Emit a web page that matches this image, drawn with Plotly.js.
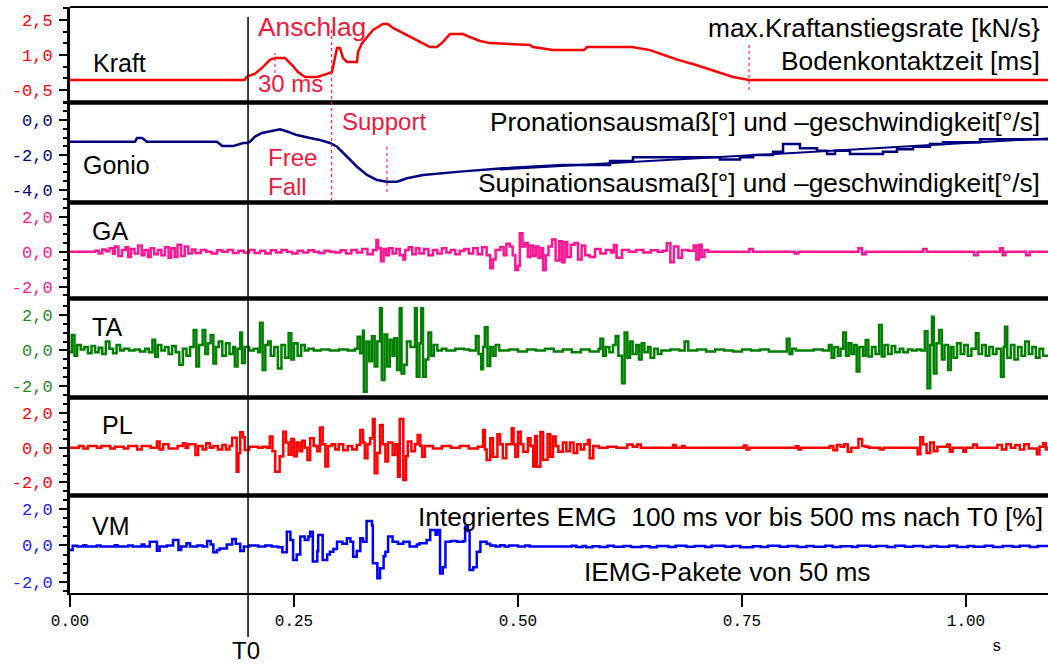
<!DOCTYPE html>
<html><head><meta charset="utf-8">
<script src="https://cdn.plot.ly/plotly-3.0.1.min.js"></script>
<style>html,body{margin:0;padding:0;background:#fff;}#chart{width:1048px;height:665px;}</style>
</head><body><div id="chart"></div>
<script>
// ---------- DATA (time in s, value) ----------
const kraftSamples = [[0,-0.07],[0.195,-0.07],[0.197,0.06],[0.2065,0.2],[0.2154,0.49],[0.2232,0.79],[0.2288,0.87],[0.24,0.87],[0.2478,0.57],[0.2545,0.27],[0.2623,0.06],[0.2757,0.06],[0.2868,0.19],[0.2924,0.27],[0.298,1.3],[0.3013,1.3],[0.3047,0.87],[0.3092,0.7],[0.3203,0.7],[0.3214,1.13],[0.3259,1.51],[0.3315,1.77],[0.3382,2.07],[0.3493,2.33],[0.3549,2.33],[0.3605,2.16],[0.3717,1.94],[0.3828,1.73],[0.3929,1.51],[0.4018,1.34],[0.4096,1.34],[0.4163,1.56],[0.4241,1.9],[0.4386,1.9],[0.4464,1.77],[0.4576,1.6],[0.4688,1.51],[0.5134,1.43],[0.5167,1.34],[0.5391,1.21],[0.5737,1.21],[0.577,1.34],[0.6272,1.34],[0.6473,1.21],[0.6629,1.0],[0.6786,0.79],[0.6987,0.57],[0.7243,0.27],[0.74,0.06],[0.7578,-0.07],[1.0915,-0.07]];

const gonioSamples = [[0,-1.24],[0.0725,-1.24],[0.0748,-1.03],[0.0804,-1.03],[0.0859,-1.24],[0.164,-1.24],[0.17,-1.49],[0.182,-1.49],[0.1931,-1.31],[0.1975,-1.31],[0.2009,-1.24],[0.2065,-0.95],[0.2143,-0.74],[0.2232,-0.63],[0.2344,-0.53],[0.2433,-0.67],[0.2533,-0.86],[0.2679,-1.03],[0.279,-1.14],[0.2902,-1.31],[0.298,-1.53],[0.3092,-2.1],[0.3203,-2.67],[0.3315,-3.14],[0.3426,-3.43],[0.3538,-3.53],[0.365,-3.53],[0.3761,-3.33],[0.394,-3.14],[0.4353,-2.95],[0.4833,-2.76],[0.5502,-2.57],[0.6027,-2.57],[0.6027,-2.34],[0.6283,-2.34],[0.6283,-2.13],[0.7254,-2.13],[0.7254,-2.25],[0.7478,-2.25],[0.7478,-2.13],[0.7623,-2.13],[0.7623,-2.0],[0.7846,-2.0],[0.7846,-1.81],[0.7958,-1.81],[0.7958,-1.37],[0.8147,-1.37],[0.8147,-1.62],[0.8337,-1.62],[0.8337,-1.75],[0.8449,-1.75],[0.8449,-1.94],[0.8538,-1.94],[0.8538,-1.75],[0.8705,-1.75],[0.8705,-1.94],[0.9074,-1.94],[0.9074,-1.81],[0.923,-1.81],[0.923,-1.67],[0.9408,-1.67],[0.9408,-1.53],[0.9598,-1.53],[0.9598,-1.37],[0.9743,-1.37],[0.9743,-1.27],[1.0156,-1.27],[1.0156,-1.1],[1.0915,-1.1]];

const gonioTrend = [[0.48,-2.83],[1.0915,-1.05]];

const gaSamples = [[0,0],[0.028,0.05],[0.032,-0.1],[0.036,0.12],[0.040,0.02],[0.044,0.2],[0.048,-0.12],[0.050,0.3],[0.054,-0.25],[0.058,0.1],[0.062,0.25],[0.065,-0.3],[0.068,0.15],[0.072,-0.1],[0.076,0.35],[0.080,-0.2],[0.083,0.1],[0.087,-0.3],[0.090,0.2],[0.094,-0.15],[0.098,0.1],[0.102,-0.2],[0.106,0.25],[0.110,-0.35],[0.113,0.2],[0.117,-0.3],[0.120,0.4],[0.124,-0.25],[0.128,0.3],[0.132,-0.1],[0.136,0.12],[0.140,-0.08],[0.146,0.1],[0.152,0],[0.158,-0.1],[0.164,0.08],[0.170,0],[0.176,0.1],[0.182,-0.08],[0.188,0.05],[0.194,-0.05],[0.200,0.1],[0.206,-0.08],[0.212,0.05],[0.218,-0.1],[0.224,0.08],[0.230,-0.05],[0.236,0.1],[0.242,0],[0.248,-0.1],[0.254,0.06],[0.260,-0.05],[0.266,0.08],[0.272,0],[0.278,-0.08],[0.284,0.05],[0.290,0],[0.296,-0.05],[0.302,0.08],[0.308,-0.1],[0.314,0.1],[0.320,-0.05],[0.326,0.15],[0.332,-0.15],[0.338,0.1],[0.342,0.67],[0.344,0.2],[0.347,-0.55],[0.350,0.15],[0.353,-0.2],[0.356,0.2],[0.360,-0.1],[0.364,0.15],[0.368,-0.2],[0.372,-0.45],[0.374,0.1],[0.378,0.25],[0.382,-0.15],[0.386,0.2],[0.390,-0.1],[0.395,0.15],[0.400,-0.2],[0.405,0.1],[0.410,-0.1],[0.415,0.2],[0.420,-0.05],[0.425,0.1],[0.430,-0.15],[0.435,0.05],[0.440,0.15],[0.445,-0.1],[0.450,0.2],[0.455,-0.15],[0.460,0.25],[0.465,-0.2],[0.469,-0.95],[0.472,-0.45],[0.475,0.1],[0.480,0.25],[0.484,-0.2],[0.487,0.45],[0.491,0.3],[0.494,-0.2],[0.497,-1.05],[0.500,-0.8],[0.502,1.05],[0.505,0.3],[0.508,0.5],[0.511,-0.3],[0.514,0.35],[0.517,-0.25],[0.520,0.3],[0.523,-0.35],[0.526,0.2],[0.528,-1.05],[0.531,-0.2],[0.534,0.3],[0.538,0.7],[0.542,-0.5],[0.546,0.6],[0.549,-0.6],[0.552,0.55],[0.555,-0.3],[0.559,0.4],[0.563,0.5],[0.567,-0.45],[0.571,0.35],[0.575,-0.2],[0.580,-0.3],[0.586,0.15],[0.592,-0.1],[0.598,0.1],[0.604,-0.05],[0.607,0.38],[0.610,-0.35],[0.616,0.1],[0.624,0],[0.632,0.1],[0.640,-0.05],[0.648,0.08],[0.656,0],[0.662,0.05],[0.666,0.48],[0.670,-0.6],[0.674,0.3],[0.679,-0.35],[0.683,0.1],[0.690,0.05],[0.696,0.35],[0.699,-0.45],[0.702,0.4],[0.705,-0.3],[0.708,0.1],[0.712,0],[0.758,0.15],[0.762,0],[0.809,-0.1],[0.813,0],[0.880,0.2],[0.884,-0.15],[0.888,0],[0.952,0.15],[0.956,0],[1.009,-0.2],[1.013,0],[1.038,0.2],[1.041,-0.2],[1.044,0],[1.067,-0.2],[1.071,0],[1.0915,0]];

const taSamples = [[0,-0.1],[0.002,0.87],[0.005,-0.3],[0.008,0.3],[0.012,0.05],[0.016,0.2],[0.020,-0.15],[0.024,0.25],[0.028,-0.1],[0.032,0.15],[0.036,-0.2],[0.040,0.5],[0.044,0.1],[0.048,-0.15],[0.052,0.3],[0.056,0],[0.060,0.1],[0.066,0],[0.072,0.05],[0.078,-0.05],[0.084,0.1],[0.088,-0.1],[0.092,0.6],[0.095,-0.35],[0.098,0.3],[0.102,0],[0.106,0.2],[0.110,-0.2],[0.114,0.25],[0.118,-0.1],[0.122,-0.8],[0.126,0.1],[0.130,-0.3],[0.134,0.2],[0.138,1.15],[0.141,-0.9],[0.144,0.3],[0.148,1.15],[0.151,-0.2],[0.154,0.4],[0.157,0.87],[0.160,-0.72],[0.163,0.2],[0.166,0.5],[0.170,-0.3],[0.174,0.4],[0.178,-0.2],[0.182,0.2],[0.184,-0.9],[0.187,0.1],[0.190,1.0],[0.192,-0.7],[0.195,0.2],[0.200,0],[0.205,0.1],[0.210,-0.1],[0.212,1.55],[0.215,-1.09],[0.218,0.3],[0.221,0.5],[0.224,-0.3],[0.228,0.2],[0.232,-1.0],[0.236,0.3],[0.240,-0.4],[0.244,0.96],[0.247,-0.5],[0.250,0.4],[0.254,-0.3],[0.258,0.3],[0.262,0],[0.266,0.1],[0.272,0],[0.280,0.05],[0.290,0],[0.300,0.05],[0.310,0],[0.318,0.1],[0.321,0.77],[0.324,-0.16],[0.327,1.1],[0.328,-2.3],[0.331,0.5],[0.334,-0.6],[0.337,0.8],[0.340,-0.9],[0.343,0.5],[0.346,2.36],[0.348,-1.65],[0.351,0.9],[0.354,-0.9],[0.357,0.6],[0.360,-0.3],[0.362,0.68],[0.365,-1.09],[0.368,2.36],[0.370,-1.28],[0.373,-0.8],[0.376,0.5],[0.380,0.2],[0.385,2.36],[0.387,-1.46],[0.390,0.4],[0.392,2.36],[0.394,-1.46],[0.397,-0.5],[0.400,1.0],[0.403,-0.3],[0.406,0.3],[0.410,0],[0.415,0.1],[0.420,0],[0.430,0.1],[0.440,0.05],[0.446,0],[0.453,0.81],[0.456,-0.2],[0.459,-1.05],[0.461,0.2],[0.463,1.3],[0.466,-0.87],[0.469,0.2],[0.472,-0.3],[0.475,0.3],[0.479,0],[0.49,0.05],[0.50,-0.05],[0.51,0.05],[0.52,0],[0.53,0.1],[0.54,-0.05],[0.55,0.05],[0.56,-0.1],[0.57,0.05],[0.58,-0.05],[0.59,0.1],[0.592,0.65],[0.595,-0.3],[0.598,0.2],[0.602,-0.1],[0.606,0.3],[0.609,0.81],[0.612,-0.3],[0.616,-1.83],[0.619,1.0],[0.622,-0.4],[0.625,0.5],[0.628,-0.2],[0.632,0.3],[0.635,-0.5],[0.638,0.4],[0.641,-0.1],[0.645,0.2],[0.648,-0.4],[0.652,0.1],[0.656,-0.2],[0.66,0],[0.67,0.05],[0.68,0],[0.686,0.5],[0.69,0],[0.70,0.05],[0.71,-0.05],[0.72,0.05],[0.73,0],[0.74,-0.05],[0.75,0.05],[0.76,0],[0.77,0.05],[0.78,-0.05],[0.80,0.65],[0.803,-0.2],[0.806,0.1],[0.81,0],[0.82,0],[0.83,0.05],[0.84,0],[0.847,0.3],[0.85,-0.4],[0.853,0.2],[0.857,-0.3],[0.86,0.1],[0.863,1.0],[0.866,-0.3],[0.869,0.4],[0.872,-0.2],[0.875,0.3],[0.878,-1.18],[0.881,0.2],[0.885,-0.3],[0.888,0.59],[0.891,-0.34],[0.895,0.2],[0.899,-0.2],[0.903,1.42],[0.906,-0.34],[0.909,0.3],[0.913,-0.2],[0.917,0.25],[0.921,-0.1],[0.926,0.1],[0.93,-0.1],[0.935,0.05],[0.94,0],[0.945,0.05],[0.95,0],[0.954,1.07],[0.957,-2.11],[0.96,0.3],[0.962,1.89],[0.964,-1.28],[0.967,0.4],[0.970,1.15],[0.973,-0.5],[0.976,0.3],[0.98,-1.09],[0.983,0.2],[0.986,-0.4],[0.99,0.4],[0.994,-0.2],[0.998,0.3],[1.002,-0.3],[1.006,0.1],[1.011,0.96],[1.014,-0.2],[1.018,0.3],[1.022,-0.3],[1.026,0.2],[1.03,-0.2],[1.034,0.1],[1.039,-1.46],[1.042,0.2],[1.0435,1.33],[1.046,-0.4],[1.05,0.3],[1.054,-0.5],[1.058,0.2],[1.062,-0.3],[1.066,0.5],[1.07,-0.2],[1.074,0.2],[1.078,-0.4],[1.082,0.1],[1.086,-0.3],[1.0915,-0.3]];

const plSamples = [[0,0],[0.01,0.1],[0.015,-0.05],[0.02,0.1],[0.03,0],[0.035,0.1],[0.045,-0.05],[0.05,0.05],[0.06,-0.05],[0.065,0.1],[0.075,-0.1],[0.08,0.1],[0.09,0],[0.097,0.35],[0.1,-0.1],[0.104,0.2],[0.11,-0.05],[0.12,0.1],[0.126,0.25],[0.129,0],[0.132,0.2],[0.14,-0.42],[0.143,0.1],[0.148,-0.1],[0.152,0.25],[0.156,0],[0.16,0.1],[0.165,-0.1],[0.17,0.15],[0.174,-0.1],[0.178,0.1],[0.181,0.58],[0.186,-1.38],[0.188,-0.3],[0.19,0.89],[0.193,0.6],[0.195,-0.13],[0.2,0.05],[0.21,0],[0.215,0.05],[0.22,0],[0.223,0.64],[0.226,-0.2],[0.229,-1.38],[0.234,-0.5],[0.238,0.92],[0.241,0.3],[0.244,-0.4],[0.247,0.5],[0.25,-0.5],[0.253,0.3],[0.256,-0.2],[0.259,0.4],[0.262,0],[0.265,-0.71],[0.268,0.54],[0.272,0.1],[0.276,-0.2],[0.279,1.17],[0.282,0.2],[0.285,-1.09],[0.288,0.1],[0.292,0.2],[0.296,-0.1],[0.3,0.2],[0.305,-0.15],[0.31,0.1],[0.315,-0.1],[0.32,0.15],[0.324,1.02],[0.327,0.3],[0.329,-0.61],[0.332,0.2],[0.335,0.54],[0.338,1.65],[0.34,-1.48],[0.343,-0.3],[0.346,1.31],[0.349,0.2],[0.352,-0.8],[0.355,0.3],[0.36,-0.42],[0.363,0.2],[0.366,-1.67],[0.368,1.65],[0.372,-1.86],[0.375,-0.5],[0.377,0.35],[0.381,-0.2],[0.385,0.2],[0.388,0.73],[0.391,0.1],[0.393,-0.52],[0.396,0.1],[0.405,-0.05],[0.415,0.1],[0.425,0],[0.435,0.1],[0.445,-0.05],[0.455,0.05],[0.461,1.02],[0.463,-0.1],[0.465,-0.71],[0.469,0.54],[0.472,-0.52],[0.477,0.77],[0.48,0.2],[0.483,-0.61],[0.487,0.2],[0.493,1.12],[0.495,0.2],[0.497,-0.52],[0.5,0.92],[0.503,0.2],[0.506,-0.23],[0.511,0.54],[0.514,0.1],[0.517,-1.09],[0.519,0.68],[0.521,-1.1],[0.525,0.9],[0.528,-0.7],[0.533,0.77],[0.536,-0.52],[0.539,0.64],[0.542,0.1],[0.545,-0.23],[0.55,0.3],[0.554,-0.2],[0.558,0.3],[0.562,-0.3],[0.566,0.2],[0.57,-0.1],[0.574,0.2],[0.578,0.44],[0.58,-0.61],[0.584,0.1],[0.59,0],[0.6,0.05],[0.61,0],[0.622,0.19],[0.628,0.06],[0.633,0.19],[0.637,0],[0.673,0.15],[0.676,0],[0.683,0.1],[0.686,0],[0.752,0.12],[0.755,-0.1],[0.758,0],[0.81,0.08],[0.813,-0.1],[0.816,0],[0.848,0.1],[0.852,-0.15],[0.856,0.15],[0.86,0.05],[0.864,0.2],[0.868,-0.23],[0.872,0],[0.88,0.5],[0.884,0.1],[0.888,0.06],[0.892,0],[0.904,-0.1],[0.908,0],[0.946,-0.38],[0.949,0.6],[0.952,0.2],[0.956,-0.3],[0.96,0.3],[0.964,-0.2],[0.968,0.05],[0.979,0.19],[0.982,-0.23],[0.985,0],[0.997,-0.23],[1.0,0],[1.008,0.19],[1.012,0],[1.035,0.15],[1.04,-0.1],[1.045,0.2],[1.05,0],[1.055,0.15],[1.06,-0.1],[1.065,0.2],[1.07,-0.05],[1.079,-0.38],[1.082,0.05],[1.086,0.25],[1.089,-0.1],[1.0915,0.05]];

const vmSamples = [[0,-0.25],[0.003,-0.01],[0.008,-0.06],[0.015,0.02],[0.018,-0.06],[0.03,0.0],[0.034,-0.06],[0.05,0.02],[0.053,-0.06],[0.065,0],[0.07,-0.06],[0.08,0.05],[0.083,-0.06],[0.089,0.21],[0.097,-0.29],[0.1,-0.06],[0.108,0],[0.115,0.3],[0.121,-0.25],[0.124,-0.06],[0.13,0.12],[0.134,-0.06],[0.142,0],[0.148,-0.06],[0.153,0.25],[0.157,0.05],[0.16,-0.38],[0.164,-0.25],[0.167,-0.16],[0.175,0.05],[0.181,0.36],[0.185,0.1],[0.19,-0.3],[0.194,-0.06],[0.2,0],[0.21,-0.06],[0.218,0],[0.225,-0.06],[0.232,-0.1],[0.237,-0.38],[0.242,0.76],[0.246,0.3],[0.249,-0.8],[0.253,-0.5],[0.257,0.49],[0.262,0.3],[0.266,0.49],[0.268,0.76],[0.271,-0.89],[0.276,-0.3],[0.277,0.58],[0.282,-0.8],[0.287,-0.5],[0.29,-0.34],[0.294,-0.2],[0.298,0.21],[0.304,0.1],[0.309,0.4],[0.313,0.2],[0.316,-0.62],[0.32,-0.3],[0.324,0.4],[0.327,0.2],[0.331,1.35],[0.337,1.1],[0.338,-0.98],[0.343,-1.81],[0.346,-1.26],[0.35,-0.6],[0.352,-0.34],[0.355,0.49],[0.36,0.21],[0.366,0.1],[0.372,0.2],[0.379,-0.06],[0.387,0.05],[0.39,0.12],[0.398,0.3],[0.402,0.86],[0.408,0.6],[0.41,0.86],[0.413,-1.54],[0.416,-1.2],[0.419,0.21],[0.425,0.25],[0.432,0.21],[0.439,0.25],[0.441,1.04],[0.444,0.8],[0.446,-1.35],[0.45,-1.2],[0.454,-0.34],[0.458,0.21],[0.465,0.1],[0.469,0],[0.475,-0.06],[0.48,0.02],[0.485,-0.06],[0.49,0],[0.5,-0.06],[0.508,0],[0.513,-0.06],[0.56,-0.02],[0.565,-0.09],[0.572,-0.03],[0.576,-0.1],[0.583,-0.04],[0.591,-0.08],[0.6,-0.02],[0.607,-0.07],[0.618,-0.03],[0.626,-0.09],[0.638,-0.04],[0.647,-0.1],[0.655,-0.03],[0.668,-0.08],[0.676,-0.01],[0.688,-0.07],[0.697,-0.03],[0.709,-0.09],[0.716,-0.02],[0.731,-0.07],[0.739,-0.03],[0.748,-0.1],[0.762,-0.04],[0.771,-0.08],[0.779,-0.01],[0.792,-0.07],[0.801,-0.03],[0.812,-0.09],[0.822,-0.03],[0.83,-0.07],[0.843,-0.02],[0.851,-0.08],[0.86,-0.04],[0.873,-0.09],[0.879,-0.02],[0.893,-0.07],[0.9,-0.03],[0.912,-0.08],[0.921,-0.01],[0.932,-0.07],[0.941,-0.03],[0.952,-0.09],[0.961,-0.03],[0.968,-0.07],[0.981,-0.02],[0.99,-0.08],[1.002,-0.03],[1.009,-0.07],[1.021,-0.02],[1.03,-0.08],[1.041,-0.03],[1.052,-0.07],[1.06,-0.02],[1.071,-0.08],[1.08,-0.03],[1.0915,-0.06]];

// event markers (s) and labels
const T0 = 0.1987;
const markAnschlag = 0.2919, markPeak30 = 0.2288, markSupport = 0.3538, markEnd = 0.7578;
const xTickVals = [0, 0.25, 0.5, 0.75, 1.0];
const xTickText = ['0.00', '0.25', '0.50', '0.75', '1.00'];

// ---------- LAYOUT HELPERS ----------
const X_MAX = 1.0915;
const L = 70, R = 1048, TOP = 7, BOT = 593;
const pxX = x => (x - L) / (R - L);
const pxY = y => (BOT - y) / (BOT - TOP);
const tX = t => t / X_MAX;

const mono = 'Liberation Mono, Courier New, monospace';
const sans = 'Liberation Sans, Arial, Helvetica, sans-serif';
const RED_TXT = '#f0183c';

function yAx(domain, range, vals, text, color, minor0) {
  return {
    domain: domain, range: range, fixedrange: true,
    tickmode: 'array', tickvals: vals, ticktext: text,
    ticks: 'outside', ticklen: 8, tickwidth: 2, tickcolor: '#000',
    minor: {tickmode: 'linear', tick0: minor0, dtick: 0.5, ticks: 'outside', ticklen: 4, tickwidth: 2, tickcolor: '#000', showgrid: false},
    showline: true, linewidth: 3, linecolor: '#000',
    showgrid: false, zeroline: false,
    tickfont: {family: mono, size: 17, color: color},
    ticklabelstandoff: 3
  };
}

function tr(samples, yaxis, color, shape, width) {
  return {
    x: samples.map(p => p[0]), y: samples.map(p => p[1]),
    xaxis: 'x', yaxis: yaxis, type: 'scatter', mode: 'lines',
    line: {color: color, width: width || 2.5, shape: shape || 'linear'},
    hoverinfo: 'skip'
  };
}

const traces = [
  tr(kraftSamples, 'y', '#ff0000', 'linear', 2.5),
  tr(gonioSamples, 'y2', '#000080', 'linear', 2.5),
  tr(gonioTrend, 'y2', '#000080', 'linear', 2),
  tr(gaSamples, 'y3', '#ff1493', 'hv', 2.5),
  tr(taSamples, 'y4', '#008000', 'hv', 2.5),
  tr(plSamples, 'y5', '#ff0000', 'hv', 2.5),
  tr(vmSamples, 'y6', '#0000ff', 'hv', 2.5)
];

function ann(text, x, y, opts) {
  return Object.assign({
    text: text, xref: 'paper', yref: 'paper', x: pxX(x), y: pxY(y),
    xanchor: 'left', yanchor: 'middle', showarrow: false,
    font: {family: sans, size: 25, color: '#000'}
  }, opts || {});
}
const redFont = {family: sans, size: 24, color: RED_TXT};
const bigFont = {family: sans, size: 26.3, color: '#000'};

const annotations = [
  ann('Kraft', 91, 63),
  ann('Gonio', 81, 165),
  ann('GA', 90, 231),
  ann('TA', 90, 327),
  ann('PL', 100, 425),
  ann('VM', 90, 526),
  ann('Anschlag', 256, 27, {font: {family: sans, size: 26.3, color: RED_TXT}}),
  ann('30 ms', 256, 84, {font: redFont}),
  ann('Support', 340, 121, {font: redFont}),
  ann('Free', 266, 158, {font: redFont}),
  ann('Fall', 266, 186, {font: redFont}),
  ann('max.Kraftanstiegsrate [kN/s}', 1042, 28, {xanchor: 'right', font: bigFont}),
  ann('Bodenkontaktzeit [ms]', 1042, 61, {xanchor: 'right', font: bigFont}),
  ann('Pronationsausmaß[°] und –geschwindigkeit[°/s]', 1042, 122, {xanchor: 'right', font: bigFont}),
  ann('Supinationsausmaß[°] und –geschwindigkeit[°/s]', 1042, 183, {xanchor: 'right', font: bigFont}),
  ann('Integriertes EMG \u00a0100 ms vor bis 500 ms nach T0 [%]', 1045, 517, {xanchor: 'right', font: bigFont}),
  ann('IEMG-Pakete von 50 ms', 582, 572, {font: bigFont}),
  ann('T0', 246, 650, {xanchor: 'center', font: {family: sans, size: 24, color: '#000'}}),
  ann('s', 997, 647, {xanchor: 'center', font: {family: mono, size: 16, color: '#000'}})
];

// panel boundaries (pixel rows)
const seps = [102.5, 202.5, 298.5, 397.5, 495.5];
const shapes = [];
shapes.push({type: 'line', xref: 'paper', yref: 'paper', x0: 0, x1: 1, y0: 1, y1: 1, line: {color: '#000', width: 2}});
seps.forEach(s => shapes.push({type: 'line', xref: 'paper', yref: 'paper', x0: 0, x1: 1, y0: pxY(s), y1: pxY(s), line: {color: '#000', width: 4.5}}));
// T0 line
shapes.push({type: 'line', xref: 'paper', yref: 'paper', x0: tX(T0), x1: tX(T0), y0: pxY(637), y1: pxY(17), line: {color: '#000', width: 1.5}});
// dotted red markers
const dot = {color: '#ff2050', width: 1.2, dash: 'dot'};
shapes.push({type: 'line', xref: 'paper', yref: 'paper', x0: tX(markPeak30), x1: tX(markPeak30), y0: pxY(73), y1: pxY(53), line: dot});
shapes.push({type: 'line', xref: 'paper', yref: 'paper', x0: tX(markAnschlag), x1: tX(markAnschlag), y0: pxY(201), y1: pxY(30), line: dot});
shapes.push({type: 'line', xref: 'paper', yref: 'paper', x0: tX(markSupport), x1: tX(markSupport), y0: pxY(192), y1: pxY(145), line: dot});
shapes.push({type: 'line', xref: 'paper', yref: 'paper', x0: tX(markEnd), x1: tX(markEnd), y0: pxY(90), y1: pxY(43), line: dot});

const layout = {
  width: 1048, height: 665,
  margin: {l: L, r: 1048 - R, t: TOP, b: 665 - BOT, pad: 0},
  paper_bgcolor: '#fff', plot_bgcolor: '#fff', showlegend: false,
  xaxis: {
    anchor: 'y6', range: [0, X_MAX], fixedrange: true,
    tickmode: 'array', tickvals: xTickVals, ticktext: xTickText,
    ticks: 'outside', ticklen: 12, tickwidth: 2.5, tickcolor: '#000',
    showline: true, linewidth: 2, linecolor: '#000',
    showgrid: false, zeroline: false,
    tickfont: {family: mono, size: 16, color: '#000'},
    ticklabelstandoff: 0
  },
  yaxis:  yAx([0.837, 1], [-1.036, 3.057], [2.5, 1.0, -0.5], ['2,5', '1,0', '-0,5'], '#ff0000', -0.5),
  yaxis2: yAx([0.6664, 0.837], [-4.714, 1.0], [0, -2, -4], ['0,0', '-2,0', '-4,0'], '#000080', 0),
  yaxis3: yAx([0.5026, 0.6664], [-2.674, 2.811], [2, 0, -2], ['2,0', '0,0', '-2,0'], '#ff1493', 0),
  yaxis4: yAx([0.3336, 0.5026], [-2.626, 2.905], [2, 0, -2], ['2,0', '0,0', '-2,0'], '#1f8a1f', 0),
  yaxis5: yAx([0.1664, 0.3336], [-2.755, 2.893], [2, 0, -2], ['2,0', '0,0', '-2,0'], '#ff0000', 0),
  yaxis6: yAx([0, 0.1664], [-2.624, 2.762], [2, 0, -2], ['2,0', '0,0', '-2,0'], '#2020ff', 0),
  annotations: annotations,
  shapes: shapes
};

Plotly.newPlot('chart', traces, layout, {staticPlot: true, displayModeBar: false});
</script>
</body></html>
